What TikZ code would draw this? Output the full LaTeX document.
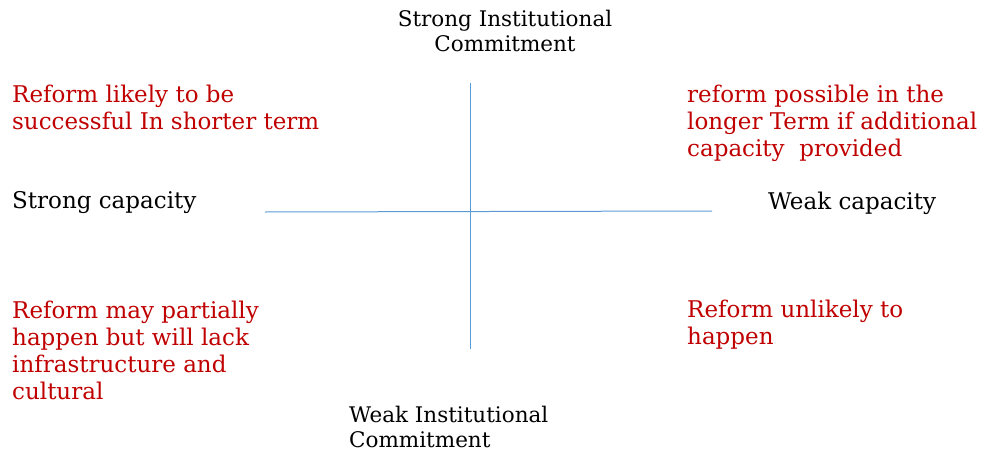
\documentclass[tikz,border=0pt]{standalone}
\usepackage{fontspec}
\setmainfont{DejaVu Serif}
\definecolor{redtxt}{HTML}{C00000}
\definecolor{axisblue}{HTML}{5B9BD5}
\begin{document}
\begin{tikzpicture}[x=1pt,y=-1pt,
  redlbl/.style={text=redtxt,font=\fontsize{23}{27}\selectfont,align=left,inner sep=0pt,anchor=west},
  blklbl/.style={text=black,font=\fontsize{21.5}{25}\selectfont,inner sep=0pt},
  capl/.style={text=black,font=\fontsize{23}{25}\selectfont,inner sep=0pt,anchor=west},
  axis/.style={draw=axisblue,line width=1pt}]
\useasboundingbox (0,0) rectangle (987,452);
\coordinate (hl) at (265,212);
\coordinate (hr) at (712,211);
\coordinate (vt) at (470,83);
\coordinate (vb) at (470,349);
\draw[axis] (hl) -- (hr);
\draw[axis] (vt) -- (vb);
\node[blklbl,align=center] (top) at (505,31) {Strong Institutional\\Commitment};
\node[blklbl,align=left,anchor=west] (bot) at (349,426.5) {Weak Institutional\\Commitment};
\node[capl] (sc) at (12,203) {Strong capacity};
\node[capl] (wc) at (768,203) {Weak capacity};
\node[redlbl] (tl) at (12,107.5) {Reform likely to be\\successful In shorter term};
\node[redlbl] (tr) at (687,123.5) {reform possible in the\\longer Term if additional\\capacity\ \ provided};
\node[redlbl] (bl) at (12,350) {Reform may partially\\happen but will lack\\infrastructure and\\cultural};
\node[redlbl] (br) at (687,324.5) {Reform unlikely to\\happen};
\end{tikzpicture}
\end{document}
